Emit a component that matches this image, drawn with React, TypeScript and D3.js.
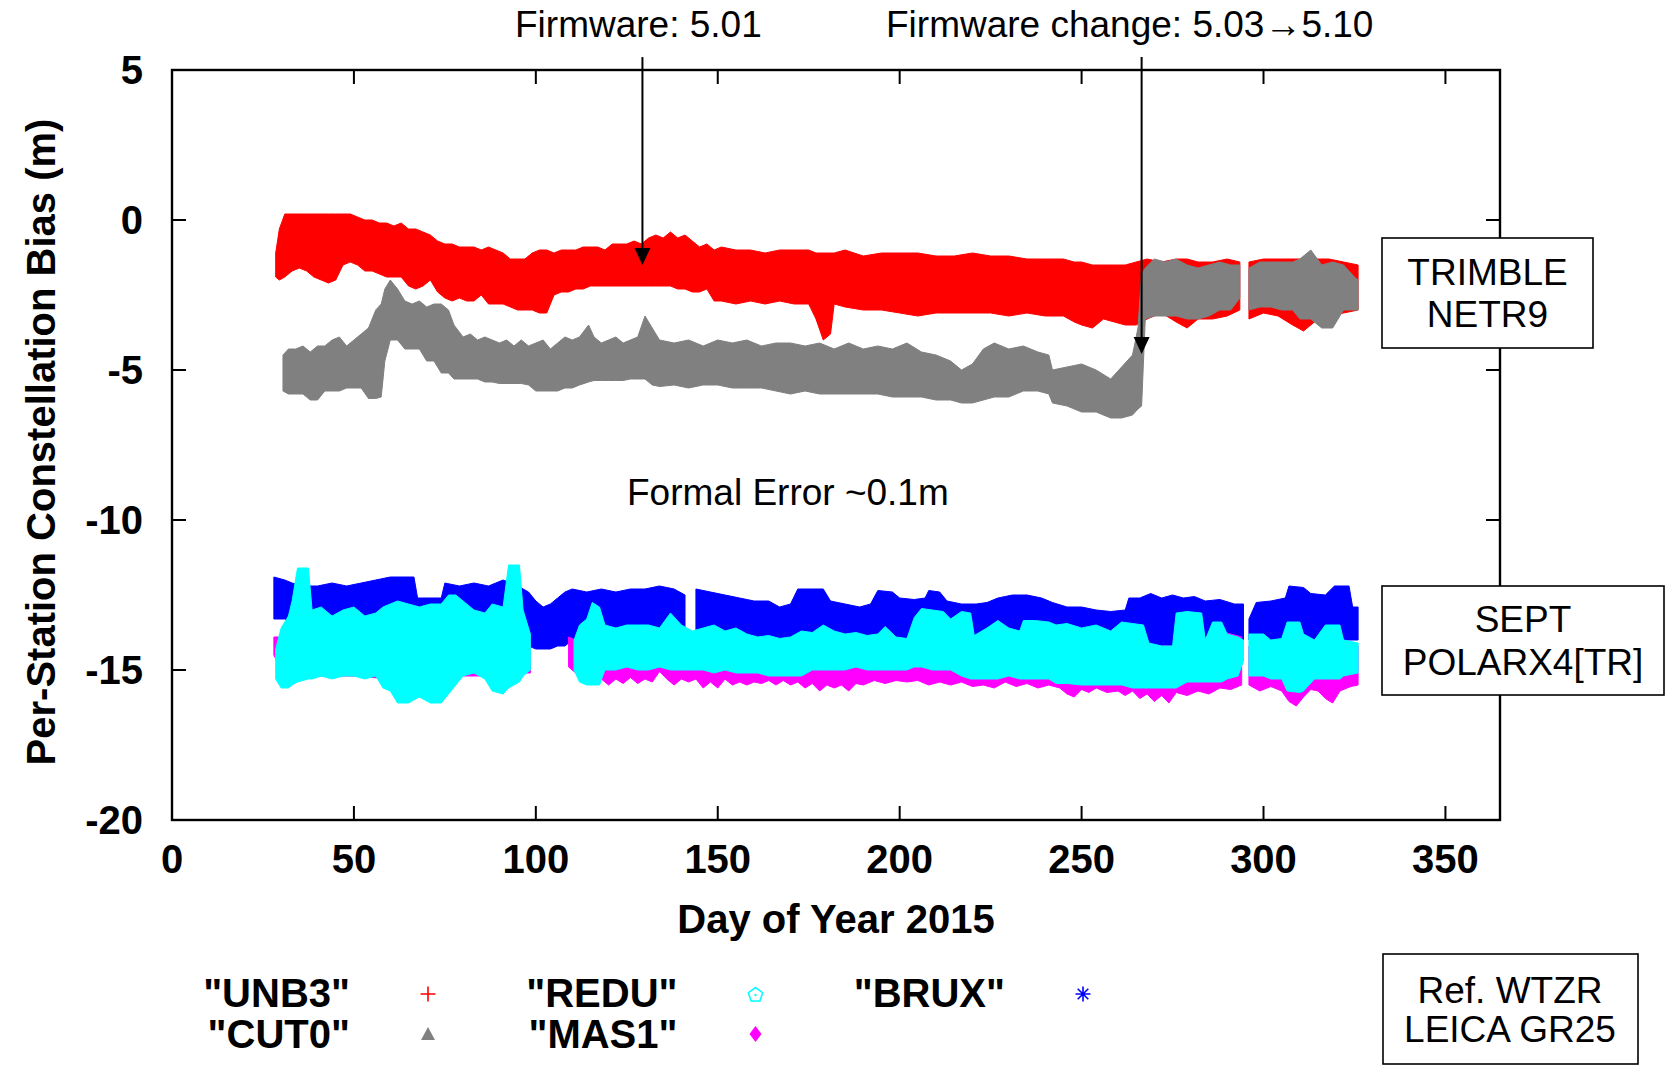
import React from "react";
import * as d3 from "d3";

// Each row: [day of year, upper envelope (m), lower envelope (m)]; NaN marks a data gap.
type Band = [number, number, number];
const GAP = NaN;

const UNB3: Band[] = [
  [28.5, -1.1, -1.9], [29.5, -0.3, -2.0], [31, 0.2, -1.9], [33, 0.2, -1.7], [35, 0.2, -1.6],
  [37, 0.2, -1.7], [39, 0.2, -1.9], [41, 0.2, -2.0], [43, 0.2, -2.1], [45, 0.2, -2.0],
  [47, 0.2, -1.5], [49, 0.2, -1.4], [51, 0.1, -1.5], [53, 0.0, -1.7], [55, 0.0, -1.7],
  [57, -0.1, -1.8], [59, -0.1, -1.9], [61, -0.2, -1.9], [63, -0.1, -1.9], [65, -0.3, -2.2],
  [67, -0.3, -2.3], [69, -0.4, -2.2], [71, -0.5, -2.0], [73, -0.7, -2.4], [75, -0.8, -2.6],
  [77, -0.8, -2.7], [79, -0.9, -2.6], [81, -0.9, -2.7], [83, -0.9, -2.7], [85, -1.0, -2.5],
  [87, -0.9, -2.8], [89, -1.0, -2.8], [91, -1.1, -2.8], [93, -1.3, -2.9], [95, -1.3, -3.0],
  [97, -1.3, -3.0], [99, -1.1, -3.0], [101, -1.0, -3.1], [103, -1.0, -3.1], [105, -1.1, -2.5],
  [107, -1.0, -2.4], [109, -1.0, -2.4], [111, -1.0, -2.3], [113, -0.9, -2.3], [115, -0.9, -2.2],
  [117, -0.9, -2.2], [119, -1.0, -2.2], [121, -0.8, -2.2], [123, -0.8, -2.2], [125, -0.8, -2.2],
  [127, -0.7, -2.2], [129, -0.8, -2.2], [131, -0.6, -2.2], [133, -0.5, -2.2], [135, -0.6, -2.2],
  [137, -0.4, -2.2], [139, -0.6, -2.3], [141, -0.5, -2.3], [143, -0.7, -2.4], [145, -0.9, -2.4],
  [147, -0.8, -2.3], [149, -1.0, -2.7], [151, -0.9, -2.7], [155, -1.0, -2.8], [159, -1.0, -2.7],
  [163, -1.1, -2.8], [167, -1.0, -2.7], [171, -1.0, -2.8], [175, -1.0, -2.8], [177, -1.1, -3.3],
  [179, -1.1, -4.0], [181, -1.1, -3.8], [182, -1.1, -2.8], [185, -1.0, -2.9], [190, -1.2, -3.0],
  [195, -1.1, -3.0], [200, -1.1, -3.1], [205, -1.1, -3.2], [210, -1.2, -3.1], [215, -1.2, -3.1],
  [220, -1.1, -3.1], [225, -1.2, -3.1], [230, -1.2, -3.2], [235, -1.3, -3.1], [240, -1.3, -3.2],
  [245, -1.3, -3.2], [248, -1.4, -3.4], [250, -1.4, -3.5], [253, -1.5, -3.6], [256, -1.5, -3.3],
  [259, -1.5, -3.4], [262, -1.5, -3.5], [265, -1.4, -3.5], [268, -1.3, -3.3], [272, -1.4, -3.1],
  [276, -1.3, -3.4], [279, -1.3, -3.6], [282, -1.4, -3.3], [286, -1.4, -3.3], [290, -1.3, -3.2],
  [293.5, -1.4, -3.0], [295, GAP, GAP],
  [296, -1.4, -3.3], [300, -1.3, -3.1], [304, -1.3, -3.2], [308, -1.3, -3.5], [311, -1.3, -3.7],
  [314, -1.3, -3.4], [318, -1.3, -3.2], [322, -1.4, -3.1], [326, -1.5, -3.0],
];

const CUT0: Band[] = [
  [30.5, -4.5, -5.7], [32, -4.3, -5.8], [34, -4.3, -5.8], [36, -4.2, -5.8], [38, -4.4, -6.0],
  [40, -4.2, -6.0], [42, -4.2, -5.7], [44, -4.0, -5.7], [46, -3.9, -5.7], [48, -4.2, -5.6],
  [50, -4.0, -5.6], [52, -3.8, -5.6], [54, -3.6, -5.95], [56, -3.0, -5.95], [57.5, -2.8, -5.9],
  [58.5, -2.3, -4.7], [60, -2.0, -4.0], [62, -2.3, -4.0], [64, -2.7, -4.3], [66, -2.8, -4.3],
  [68, -2.7, -4.3], [70, -2.9, -4.7], [72, -2.8, -4.7], [74, -2.8, -5.1], [76, -3.0, -5.1],
  [77.5, -3.5, -5.3], [80, -3.9, -5.3], [82, -3.8, -5.3], [84, -4.0, -5.3], [86, -3.9, -5.4],
  [88, -4.0, -5.4], [90, -4.1, -5.45], [92, -4.0, -5.45], [94, -4.2, -5.45], [96, -4.0, -5.45],
  [98, -4.2, -5.5], [100, -4.1, -5.7], [102, -4.0, -5.7], [104, -4.3, -5.7], [106, -4.1, -5.7],
  [108, -3.9, -5.6], [110, -4.0, -5.6], [112, -3.9, -5.5], [114.5, -3.5, -5.4], [116, -3.9, -5.35],
  [118, -4.1, -5.35], [120, -4.0, -5.35], [122, -3.9, -5.35], [124, -4.1, -5.35], [126, -4.0, -5.3],
  [128, -3.9, -5.3], [130, -3.2, -5.3], [132, -3.6, -5.5], [134, -4.0, -5.55], [138, -4.1, -5.5],
  [142, -4.0, -5.6], [146, -4.2, -5.5], [150, -4.0, -5.5], [154, -4.1, -5.6], [158, -4.0, -5.6],
  [162, -4.2, -5.6], [166, -4.1, -5.7], [170, -4.1, -5.8], [174, -4.2, -5.7], [178, -4.1, -5.8],
  [182, -4.3, -5.8], [186, -4.1, -5.8], [190, -4.3, -5.8], [194, -4.2, -5.8], [198, -4.3, -5.9],
  [202, -4.1, -5.9], [206, -4.4, -5.9], [210, -4.5, -6.0], [214, -4.7, -6.0], [217, -5.0, -6.1],
  [220, -4.8, -6.1], [223, -4.3, -6.0], [226, -4.1, -5.9], [230, -4.3, -5.9], [234, -4.2, -5.7],
  [238, -4.4, -5.7], [241, -4.5, -5.8], [242, -5.0, -6.1], [246, -4.9, -6.2], [250, -4.8, -6.4],
  [254, -5.0, -6.4], [258, -5.3, -6.6], [261, -4.9, -6.6], [264, -4.5, -6.5], [265.5, -3.6, -6.3],
  [266.5, -1.8, -6.2], [267.5, -1.6, -3.3], [270, -1.3, -3.2], [273, -1.4, -3.2], [276, -1.3, -3.2],
  [279, -1.5, -3.3], [282, -1.6, -3.3], [285, -1.5, -3.2], [288, -1.4, -3.0], [291, -1.5, -3.0],
  [293.5, -1.5, -2.6], [295, GAP, GAP],
  [296, -1.6, -3.0], [299, -1.4, -2.9], [302, -1.4, -2.9], [305, -1.4, -3.0], [308, -1.4, -3.0],
  [310, -1.3, -3.3], [313, -1.0, -3.3], [316, -1.5, -3.6], [319, -1.4, -3.6], [322, -1.5, -3.0],
  [325, -1.9, -3.0], [326, -2.0, -3.0],
];

const BRUX: Band[] = [
  [28, -11.9, -13.3], [31, -12.0, -13.3], [33, -12.1, -13.4], [36, -12.2, -14.0], [40, -12.2, -14.0],
  [44, -12.1, -14.0], [48, -12.2, -14.0], [52, -12.1, -14.0], [56, -12.0, -14.0], [60, -11.9, -14.0],
  [64, -11.9, -14.0], [66.5, -11.9, -14.0], [67.5, -12.6, -14.0], [74, -12.6, -14.0], [75, -12.1, -14.0],
  [79, -12.2, -14.0], [83, -12.1, -14.0], [87, -12.2, -14.0], [91, -12.0, -14.0], [95, -12.2, -14.0],
  [98, -12.4, -14.2], [100, -12.7, -14.3], [102, -12.9, -14.3], [104, -12.8, -14.3], [106, -12.6, -14.2],
  [108, -12.4, -14.2], [110, -12.3, -14.0], [114, -12.4, -14.0], [118, -12.3, -14.0], [122, -12.4, -14.0],
  [126, -12.3, -14.0], [130, -12.3, -14.0], [134, -12.2, -14.0], [138, -12.3, -14.0], [141, -12.5, -14.0],
  [142.5, GAP, GAP],
  [144, -12.3, -14.0], [148, -12.4, -14.0], [152, -12.5, -14.0], [156, -12.6, -14.0], [160, -12.7, -14.0],
  [164, -12.7, -14.0], [167, -12.9, -14.0], [170, -12.8, -14.0], [172, -12.3, -14.0], [176, -12.3, -14.0],
  [179, -12.3, -14.0], [181, -12.7, -14.0], [185, -12.8, -14.0], [189, -12.9, -14.0], [192, -12.8, -14.0],
  [194, -12.35, -14.0], [198, -12.4, -14.0], [200, -12.6, -14.0], [204, -12.65, -14.0], [207, -12.6, -14.0],
  [208, -12.35, -14.0], [211, -12.4, -14.0], [213, -12.7, -14.0], [217, -12.8, -14.0], [221, -12.8, -14.0],
  [224, -12.75, -14.0], [227, -12.6, -14.0], [231, -12.5, -14.0], [235, -12.5, -14.0], [239, -12.6, -14.0],
  [242, -12.75, -14.0], [246, -12.9, -14.0], [250, -12.9, -14.0], [254, -13.0, -14.0], [258, -13.05, -14.2],
  [262, -13.0, -14.3], [263, -12.6, -14.3], [266, -12.6, -14.3], [269, -12.45, -14.25], [272, -12.6, -14.25],
  [275, -12.5, -14.2], [278, -12.6, -14.0], [281, -12.55, -14.0], [284, -12.7, -14.0], [288, -12.65, -14.0],
  [292, -12.8, -14.0], [294.5, -12.8, -14.0], [295.2, GAP, GAP],
  [296, -13.3, -14.0], [298, -12.75, -14.0], [302, -12.7, -14.0], [306, -12.6, -14.0], [307, -12.2, -14.0],
  [311, -12.25, -14.0], [313, -12.45, -14.0], [317, -12.5, -14.0], [319.5, -12.2, -14.0], [323.5, -12.2, -14.0],
  [324.5, -12.9, -14.0], [326, -12.9, -14.0],
];

const MAS1: Band[] = [
  [28, -13.9, -14.5], [30, -13.9, -15.0], [34, -13.8, -15.3], [40, -13.6, -15.2], [50, -13.6, -15.2],
  [60, -13.5, -15.3], [70, -13.4, -15.3], [80, -13.4, -15.2], [90, -13.4, -15.2], [97, -13.6, -15.1],
  [98.5, -14.1, -15.1], [104, GAP, GAP],
  [109, -13.9, -14.9], [111, -14.0, -15.1], [114, -14.1, -15.3], [118, -14.1, -15.3], [120, -14.2, -15.5],
  [122, -14.2, -15.3], [124, -14.2, -15.45], [126, -14.2, -15.25], [128, -14.2, -15.45], [130, -14.2, -15.3],
  [132, -14.2, -15.4], [134, -14.2, -15.05], [136, -14.2, -15.3], [138, -14.2, -15.5], [140, -14.2, -15.3],
  [142, -14.2, -15.4], [144, -14.2, -15.3], [146, -14.2, -15.6], [148, -14.2, -15.4], [150, -14.2, -15.6],
  [152, -14.2, -15.3], [154, -14.2, -15.5], [156, -14.2, -15.4], [158, -14.2, -15.5], [160, -14.2, -15.4],
  [162, -14.2, -15.45], [164, -14.2, -15.35], [166, -14.2, -15.5], [168, -14.2, -15.35], [170, -14.2, -15.5],
  [172, -14.2, -15.4], [174, -14.2, -15.6], [176, -14.2, -15.45], [178, -14.2, -15.7], [180, -14.2, -15.5],
  [182, -14.2, -15.6], [184, -14.2, -15.5], [186, -14.2, -15.7], [188, -14.2, -15.45], [190, -14.2, -15.5],
  [193, -14.2, -15.35], [196, -14.2, -15.45], [199, -14.2, -15.35], [202, -14.2, -15.4], [205, -14.2, -15.35],
  [208, -14.2, -15.5], [211, -14.2, -15.4], [214, -14.2, -15.5], [217, -14.2, -15.4], [220, -14.2, -15.55],
  [223, -14.2, -15.5], [226, -14.2, -15.6], [229, -14.2, -15.4], [232, -14.2, -15.55], [235, -14.2, -15.45],
  [238, -14.2, -15.6], [241, -14.2, -15.5], [244, -14.2, -15.6], [246, -14.2, -15.8], [248, -14.2, -15.9],
  [250, -14.2, -15.65], [252, -14.2, -15.75], [254, -14.2, -15.6], [257, -14.2, -15.75], [260, -14.2, -15.7],
  [262, -14.2, -15.85], [264, -14.2, -15.7], [266, -14.2, -15.95], [268, -14.2, -15.8], [270, -14.2, -16.05],
  [272, -14.2, -15.85], [274, -14.2, -16.1], [276, -14.2, -15.75], [279, -14.2, -15.85], [282, -14.2, -15.7],
  [285, -13.8, -15.8], [288, -13.7, -15.6], [291, -13.8, -15.65], [294, -13.9, -15.5], [295, GAP, GAP],
  [296, -14.2, -15.5], [299, -14.2, -15.7], [302, -14.2, -15.55], [305, -14.2, -15.7], [307, -14.2, -16.05],
  [309, -14.2, -16.2], [311, -14.2, -15.9], [313, -14.2, -15.65], [315, -14.2, -15.7], [317, -14.2, -15.95],
  [319, -14.2, -16.1], [321, -14.2, -15.7], [324, -14.2, -15.55], [326, -14.2, -15.5],
];

const REDU: Band[] = [
  [28.5, -14.3, -15.3], [30, -13.6, -15.6], [32, -13.2, -15.6], [33, -12.7, -15.5], [34.5, -11.6, -15.4],
  [37.5, -11.6, -15.3], [38.5, -13.0, -15.3], [41, -12.9, -15.2], [44, -13.2, -15.3], [47, -13.0, -15.2],
  [50, -12.9, -15.2], [53, -13.2, -15.3], [56, -13.1, -15.2], [58, -12.9, -15.6], [60, -12.8, -15.7],
  [62, -12.7, -16.1], [65, -12.8, -16.1], [68, -12.9, -15.9], [71, -12.8, -16.1], [74, -12.8, -16.1],
  [76, -12.5, -15.8], [78, -12.5, -15.5], [80, -12.7, -15.2], [83, -13.0, -15.1], [86, -13.1, -15.3],
  [88, -12.8, -15.7], [91, -12.9, -15.8], [92.5, -11.5, -15.6], [95.5, -11.5, -15.4], [96.5, -13.0, -15.2],
  [98.5, -13.8, -15.0], [104, GAP, GAP],
  [110.5, -14.0, -15.0], [112, -13.5, -15.4], [114, -13.3, -15.5], [115.5, -12.75, -15.5], [117.5, -12.9, -15.5],
  [119, -13.5, -15.0], [122, -13.6, -15.0], [125, -13.5, -14.9], [128, -13.5, -15.0], [131, -13.5, -15.0],
  [134, -13.6, -14.9], [137, -13.1, -15.0], [140, -13.5, -15.0], [143, -13.7, -15.0], [146, -13.6, -15.0],
  [149, -13.5, -15.1], [152, -13.7, -15.0], [155, -13.6, -15.1], [158, -13.8, -15.1], [161, -13.9, -15.1],
  [164, -13.85, -15.2], [167, -13.95, -15.2], [170, -13.9, -15.2], [173, -13.7, -15.2], [176, -13.75, -15.0],
  [179, -13.5, -15.0], [182, -13.7, -15.0], [185, -13.8, -15.0], [188, -13.75, -14.9], [191, -13.85, -15.0],
  [194, -13.8, -15.0], [196, -13.55, -15.0], [199, -13.9, -15.0], [202, -13.95, -15.0], [204, -13.25, -14.9],
  [206, -12.95, -14.9], [209, -13.0, -15.0], [212, -13.05, -15.0], [214, -13.3, -15.0], [217, -13.05, -15.2],
  [219.5, -13.1, -15.3], [220.5, -13.85, -15.3], [224, -13.6, -15.3], [227, -13.35, -15.3], [230, -13.6, -15.2],
  [233, -13.7, -15.3], [234, -13.35, -15.3], [237, -13.35, -15.3], [241, -13.4, -15.3], [243, -13.5, -15.45],
  [246, -13.45, -15.45], [250, -13.6, -15.5], [254, -13.5, -15.5], [258, -13.7, -15.5], [261, -13.4, -15.5],
  [264, -13.45, -15.6], [267, -13.5, -15.6], [268.5, -14.1, -15.6], [272, -14.2, -15.6], [275, -14.2, -15.6],
  [276, -13.1, -15.6], [279, -13.05, -15.4], [283, -13.1, -15.4], [284, -14.0, -15.4], [286, -13.4, -15.4],
  [288.5, -13.4, -15.4], [290, -13.8, -15.3], [293, -13.9, -15.2], [294.5, -14.0, -14.7], [295.2, GAP, GAP],
  [296, -13.8, -15.2], [300, -13.8, -15.2], [302, -14.0, -15.3], [305, -13.95, -15.3], [306.5, -13.4, -15.7],
  [310, -13.4, -15.75], [311, -13.8, -15.7], [314, -14.0, -15.3], [317, -13.5, -15.3], [321, -13.5, -15.3],
  [322, -14.0, -15.2], [326, -14.1, -15.1],
];

const X_TICKS = [0, 50, 100, 150, 200, 250, 300, 350];
const Y_TICKS = [5, 0, -5, -10, -15, -20];

// Legend order (gnuplot fills columns of two rows)
const LEGEND_NAMES = ['"UNB3"', '"CUT0"', '"REDU"', '"MAS1"', '"BRUX"'];
const LEGEND_COLORS = ["#ff0000", "#808080", "#00ffff", "#ff00ff", "#0000ff"];
const LEGEND_SYMBOLS = ["plus", "triangle", "pentagon", "diamond", "star"];

// Firmware events: [day, arrow tip value]
const EVENTS: [number, number][] = [
  [129.3, -1.5],
  [266.5, -4.47],
];

const FONT = "'Liberation Sans', Arial, Helvetica, sans-serif";

const W = 1672;
const H = 1066;
const M = { left: 172, right: 1500, top: 70, bottom: 820 };

function Marker({ kind, color, cx, cy }: { kind: string; color: string; cx: number; cy: number }) {
  const s = 7.5;
  if (kind === "plus") {
    return (
      <path d={`M${cx - s},${cy}H${cx + s}M${cx},${cy - s}V${cy + s}`} stroke={color} strokeWidth={1.6} fill="none" />
    );
  }
  if (kind === "triangle") {
    return <path d={`M${cx},${cy - 7}L${cx + 7},${cy + 6}L${cx - 7},${cy + 6}Z`} fill={color} />;
  }
  if (kind === "diamond") {
    return <path d={`M${cx},${cy - 8}L${cx + 6},${cy}L${cx},${cy + 8}L${cx - 6},${cy}Z`} fill={color} />;
  }
  if (kind === "pentagon") {
    const pts = d3.range(5).map((i) => {
      const a = -Math.PI / 2 + (i * 2 * Math.PI) / 5;
      return [cx + 7.5 * Math.cos(a), cy + 1 + 7.5 * Math.sin(a)];
    });
    return (
      <g>
        <path d={`M${pts.map((p) => p.join(",")).join("L")}Z`} fill="none" stroke={color} strokeWidth={1.6} />
        <circle cx={cx} cy={cy + 1} r={1.2} fill={color} />
      </g>
    );
  }
  // star: asterisk of eight spokes
  const d = [0, 45, 90, 135]
    .map((deg) => {
      const a = (deg * Math.PI) / 180;
      const dx = s * Math.cos(a);
      const dy = s * Math.sin(a);
      return `M${cx - dx},${cy - dy}L${cx + dx},${cy + dy}`;
    })
    .join("");
  return <path d={d} stroke={color} strokeWidth={1.6} fill="none" />;
}

export default function App() {
  const x = d3.scaleLinear().domain([0, 365]).range([M.left, M.right]);
  const y = d3.scaleLinear().domain([-20, 5]).range([M.bottom, M.top]);

  const area = d3
    .area<Band>()
    .defined((d) => !isNaN(d[1]))
    .x((d) => x(d[0]))
    .y0((d) => y(d[2]))
    .y1((d) => y(d[1]))
    .curve(d3.curveLinear);

  // Drawing order: later series sit on top
  const series: { data: Band[]; color: string }[] = [
    { data: UNB3, color: "#ff0000" },
    { data: CUT0, color: "#808080" },
    { data: BRUX, color: "#0000ff" },
    { data: MAS1, color: "#ff00ff" },
    { data: REDU, color: "#00ffff" },
  ];

  const tickLen = 14;
  const arrowTop = y(5.43);

  return (
    <svg
      width={W}
      height={H}
      viewBox={`0 0 ${W} ${H}`}
      style={{ position: "absolute", left: 0, top: 0, background: "#fff" }}
      fontFamily={FONT}
    >
      <rect x={0} y={0} width={W} height={H} fill="#fff" />

      {series.map((s, i) => (
        <path key={i} d={area(s.data) || ""} fill={s.color} stroke={s.color} strokeWidth={1} strokeLinejoin="miter" />
      ))}

      {/* frame with mirrored ticks */}
      <rect
        x={M.left}
        y={M.top}
        width={M.right - M.left}
        height={M.bottom - M.top}
        fill="none"
        stroke="#000"
        strokeWidth={2.4}
      />
      {X_TICKS.filter((t) => t > 0).map((t) => (
        <g key={`xt${t}`} stroke="#000" strokeWidth={2}>
          <line x1={x(t)} x2={x(t)} y1={M.bottom} y2={M.bottom - tickLen} />
          <line x1={x(t)} x2={x(t)} y1={M.top} y2={M.top + tickLen} />
        </g>
      ))}
      {Y_TICKS.filter((t) => t !== 5 && t !== -20).map((t) => (
        <g key={`yt${t}`} stroke="#000" strokeWidth={2}>
          <line x1={M.left} x2={M.left + tickLen} y1={y(t)} y2={y(t)} />
          <line x1={M.right} x2={M.right - tickLen} y1={y(t)} y2={y(t)} />
        </g>
      ))}

      {X_TICKS.map((t) => (
        <text key={`xl${t}`} x={x(t)} y={873} textAnchor="middle" fontSize={40} fontWeight="bold">
          {t}
        </text>
      ))}
      {Y_TICKS.map((t) => (
        <text key={`yl${t}`} x={143} y={y(t)} dy="0.36em" textAnchor="end" fontSize={40} fontWeight="bold">
          {t}
        </text>
      ))}

      <text x={(M.left + M.right) / 2} y={933} textAnchor="middle" fontSize={40} fontWeight="bold">
        Day of Year 2015
      </text>
      <text
        transform={`translate(55, 442) rotate(-90)`}
        textAnchor="middle"
        fontSize={40}
        fontWeight="bold"
      >
        Per-Station Constellation Bias (m)
      </text>

      {/* firmware annotations */}
      <text x={515} y={37} fontSize={37}>
        Firmware: 5.01
      </text>
      <text x={886} y={37} fontSize={37}>
        Firmware change: 5.03{"\u2192"}5.10
      </text>
      {EVENTS.map(([day, tip], i) => {
        const ax = x(day);
        const ty = y(tip);
        return (
          <g key={`ev${i}`}>
            <line x1={ax} x2={ax} y1={arrowTop} y2={ty - 10} stroke="#000" strokeWidth={2} />
            <path d={`M${ax},${ty}L${ax - 8},${ty - 17}L${ax + 8},${ty - 17}Z`} fill="#000" />
          </g>
        );
      })}

      <text x={627} y={505} fontSize={37}>
        Formal Error ~0.1m
      </text>

      {/* receiver boxes */}
      <rect x={1382} y={238} width={211} height={110} fill="#fff" stroke="#000" strokeWidth={1.6} />
      <text x={1487.5} y={285} textAnchor="middle" fontSize={37}>
        TRIMBLE
      </text>
      <text x={1487.5} y={327} textAnchor="middle" fontSize={37}>
        NETR9
      </text>

      <rect x={1382} y={586} width={282} height={109} fill="#fff" stroke="#000" strokeWidth={1.6} />
      <text x={1523} y={632} textAnchor="middle" fontSize={37}>
        SEPT
      </text>
      <text x={1523} y={675} textAnchor="middle" fontSize={37}>
        POLARX4[TR]
      </text>

      <rect x={1383} y={954} width={255} height={110} fill="#fff" stroke="#000" strokeWidth={1.6} />
      <text x={1510} y={1003} textAnchor="middle" fontSize={37}>
        Ref. WTZR
      </text>
      <text x={1510} y={1042} textAnchor="middle" fontSize={37}>
        LEICA GR25
      </text>

      {/* legend */}
      {LEGEND_NAMES.map((name, i) => {
        const col = Math.floor(i / 2);
        const row = i % 2;
        const tx = 350 + col * 327.5;
        const mx = 428 + col * 327.5;
        return (
          <g key={`lg${i}`}>
            <text x={tx} y={1007 + row * 41} textAnchor="end" fontSize={40} fontWeight="bold">
              {name}
            </text>
            <Marker kind={LEGEND_SYMBOLS[i]} color={LEGEND_COLORS[i]} cx={mx} cy={994 + row * 40} />
          </g>
        );
      })}
    </svg>
  );
}
